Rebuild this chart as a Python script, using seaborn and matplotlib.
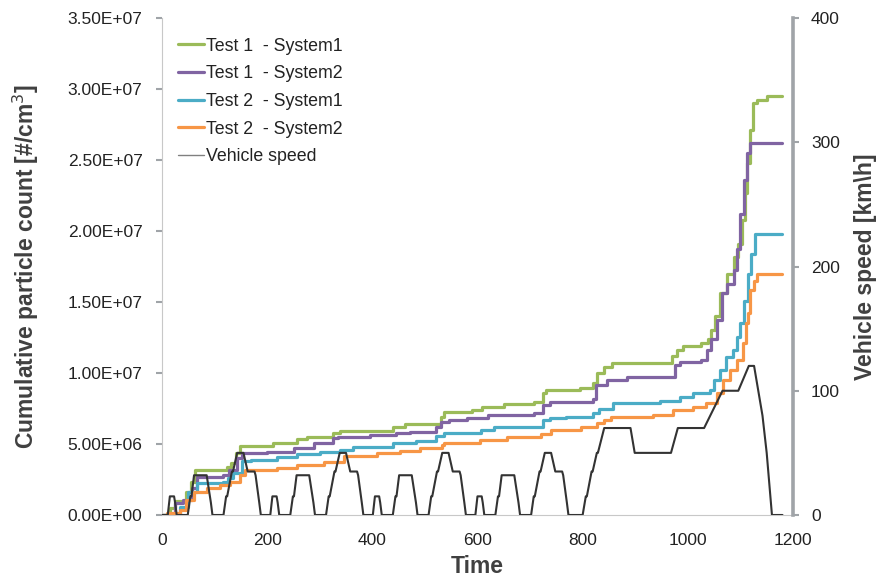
import numpy as np
import pandas as pd
import matplotlib
matplotlib.use('Agg')
import matplotlib.pyplot as plt
import seaborn as sns
from matplotlib.lines import Line2D
from matplotlib.ticker import FuncFormatter

# Cumulative particle counts (step change points, values in #/cm3)
t1s1_time = [0, 15, 25, 45, 55, 62, 124, 132, 140, 148, 211, 256, 275, 326, 339, 440, 462, 530, 536,
             590, 609, 650, 707, 725, 731, 795, 819, 828, 840, 855, 969, 979, 991, 1025, 1038, 1045,
             1052, 1061, 1074, 1087, 1096, 1103, 1109, 1112, 1118, 1124, 1131, 1150, 1180]
t1s1_count = [0, 0.5e6, 1.0e6, 1.6e6, 2.3e6, 3.17e6, 3.4e6, 3.66e6, 4.4e6, 4.86e6, 5.05e6, 5.35e6, 5.5e6,
              5.75e6, 5.94e6, 6.22e6, 6.4e6, 6.92e6, 7.27e6, 7.4e6, 7.63e6, 7.8e6, 7.98e6, 8.57e6, 8.8e6,
              8.92e6, 9.27e6, 10.0e6, 10.4e6, 10.68e6, 11.2e6, 11.6e6, 11.9e6, 12.1e6, 12.4e6, 13.0e6,
              14.0e6, 15.6e6, 17.0e6, 18.2e6, 19.1e6, 20.8e6, 22.7e6, 24.8e6, 27.1e6, 29.0e6, 29.2e6,
              29.5e6, 29.5e6]

t1s2_time = [0, 25, 40, 58, 67, 117, 128, 142, 152, 200, 251, 290, 325, 335, 396, 446, 471, 522, 531,
             545, 580, 620, 707, 725, 737, 820, 826, 846, 884, 976, 985, 1026, 1036, 1045, 1055, 1065,
             1075, 1087, 1093, 1099, 1106, 1112, 1118, 1180]
t1s2_count = [0, 0.83e6, 1.06e6, 1.9e6, 2.7e6, 2.8e6, 3.17e6, 4.0e6, 4.36e6, 4.46e6, 4.7e6, 5.05e6, 5.4e6,
              5.5e6, 5.63e6, 5.75e6, 5.87e6, 6.2e6, 6.57e6, 6.7e6, 6.8e6, 7.04e6, 7.2e6, 7.75e6, 7.98e6,
              8.2e6, 9.15e6, 9.5e6, 9.74e6, 10.56e6, 10.75e6, 10.9e6, 11.6e6, 12.4e6, 13.7e6, 15.6e6,
              16.3e6, 17.25e6, 18.7e6, 21.2e6, 23.6e6, 25.5e6, 26.2e6, 26.2e6]

t2s1_time = [0, 34, 49, 67, 117, 125, 135, 152, 170, 218, 256, 300, 339, 364, 440, 484, 522, 536, 607,
             632, 725, 737, 768, 820, 832, 858, 947, 985, 1010, 1042, 1050, 1061, 1073, 1086, 1093,
             1100, 1106, 1115, 1121, 1127, 1180]
t2s1_count = [0, 0.56e6, 1.64e6, 2.25e6, 2.35e6, 2.6e6, 2.95e6, 3.82e6, 3.9e6, 4.1e6, 4.3e6, 4.45e6,
              4.58e6, 4.8e6, 5.05e6, 5.2e6, 5.56e6, 5.75e6, 5.99e6, 6.22e6, 6.69e6, 6.8e6, 6.92e6, 7.2e6,
              7.5e6, 7.86e6, 8.0e6, 8.33e6, 8.57e6, 8.8e6, 9.5e6, 10.2e6, 11.1e6, 11.6e6, 12.56e6,
              13.5e6, 15.1e6, 17.0e6, 18.4e6, 19.8e6, 19.8e6]

t2s2_time = [0, 10, 34, 45, 60, 85, 110, 129, 148, 158, 218, 256, 309, 347, 409, 453, 491, 532, 536,
             605, 656, 720, 739, 796, 827, 840, 853, 934, 972, 1010, 1035, 1055, 1067, 1080, 1093,
             1105, 1111, 1114, 1118, 1125, 1131, 1180]
t2s2_count = [0, 0.16e6, 0.35e6, 1.06e6, 1.64e6, 1.9e6, 2.1e6, 2.35e6, 2.8e6, 3.17e6, 3.29e6, 3.52e6,
              3.75e6, 4.15e6, 4.34e6, 4.53e6, 4.7e6, 4.93e6, 5.1e6, 5.28e6, 5.52e6, 5.7e6, 5.99e6,
              6.22e6, 6.46e6, 6.69e6, 6.92e6, 7.04e6, 7.4e6, 7.58e6, 7.86e6, 8.57e6, 9.5e6, 10.2e6,
              10.9e6, 12.1e6, 13.5e6, 14.2e6, 15.85e6, 16.5e6, 17.0e6, 17.0e6]

# Vehicle speed (NEDC breakpoints, km/h)
speed_time = [0, 11, 15, 23, 25, 28, 49, 54, 56, 61, 85, 93, 96, 117, 122, 124, 133, 135, 143, 155, 163, 176, 178, 185, 188,
              206, 210, 218, 220, 223, 244, 249, 251, 256, 280, 288, 291, 312, 317, 319, 328, 330, 338, 350, 358, 371, 373, 380, 383,
              401, 405, 413, 415, 418, 439, 444, 446, 451, 475, 483, 486, 507, 512, 514, 523, 525, 533, 545, 553, 566, 568, 575, 578,
              596, 600, 608, 610, 613, 634, 639, 641, 646, 670, 678, 681, 702, 707, 709, 718, 720, 728, 740, 748, 761, 763, 770, 773,
              800, 806, 808, 817, 819, 827, 829, 841, 891, 899, 968, 981, 1031, 1066, 1096, 1116, 1126, 1142, 1150, 1160, 1180]
speed_kmh = [0, 0, 15, 15, 10, 0, 0, 15, 15, 32, 32, 10, 0, 0, 15, 15, 35, 35, 50, 50, 35, 35, 32, 10, 0,
             0, 15, 15, 10, 0, 0, 15, 15, 32, 32, 10, 0, 0, 15, 15, 35, 35, 50, 50, 35, 35, 32, 10, 0,
             0, 15, 15, 10, 0, 0, 15, 15, 32, 32, 10, 0, 0, 15, 15, 35, 35, 50, 50, 35, 35, 32, 10, 0,
             0, 15, 15, 10, 0, 0, 15, 15, 32, 32, 10, 0, 0, 15, 15, 35, 35, 50, 50, 35, 35, 32, 10, 0,
             0, 15, 15, 35, 35, 50, 50, 70, 70, 50, 50, 70, 70, 100, 100, 120, 120, 80, 50, 0, 0]

series_labels = ['Test 1  - System1', 'Test 1  - System2', 'Test 2  - System1', 'Test 2  - System2']
series_colors = ['#9BBB59', '#8064A2', '#4BACC6', '#F79646']
series_data = [(t1s1_time, t1s1_count), (t1s2_time, t1s2_count),
               (t2s1_time, t2s1_count), (t2s2_time, t2s2_count)]

sns.set_style('white')
plt.rcParams['font.family'] = ['Liberation Sans', 'DejaVu Sans']
text_color = '#404040'
tick_gray = '#A0A4A8'

fig = plt.figure(figsize=(8.88, 5.81), dpi=100)
ax = fig.add_axes([0.1824, 0.1136, 0.7106, 0.8554])
ax2 = ax.twinx()

for (tt, cc), lab, col in zip(series_data, series_labels, series_colors):
    sns.lineplot(x=tt, y=cc, ax=ax, color=col, linewidth=2.3, drawstyle='steps-post',
                 estimator=None, label=lab, legend=False)

sns.lineplot(x=speed_time, y=speed_kmh, ax=ax2, color='#333333', linewidth=1.5,
             estimator=None, legend=False)

ax.set_xlim(0, 1200)
ax.set_ylim(0, 3.5e7)
ax2.set_ylim(0, 400)
ax.set_xticks(np.arange(0, 1201, 200))
ax.set_yticks(np.arange(0, 3.5e7 + 1, 5e6))
ax2.set_yticks(np.arange(0, 401, 100))
ax.yaxis.set_major_formatter(FuncFormatter(lambda v, p: '{:.2E}'.format(v)))

ax.set_xlabel('Time', fontsize=16.5, fontweight='bold', color=text_color, labelpad=5)
ax.set_ylabel('Cumulative particle count [#/cm$^3$]', fontsize=16.5, fontweight='bold',
              color=text_color, labelpad=19)
ax2.set_ylabel('Vehicle speed [km\\h]', fontsize=16.5, fontweight='bold', color=text_color, labelpad=10)

for a in (ax, ax2):
    a.tick_params(labelsize=12.5, labelcolor='#222222', colors=tick_gray, length=4, width=1.5, direction='out')
    for s in a.spines.values():
        s.set_visible(False)
ax.spines['left'].set_visible(True)
ax.spines['left'].set_color('#C8C8C8')
ax.spines['bottom'].set_visible(True)
ax.spines['bottom'].set_color('#C8C8C8')
ax2.spines['right'].set_visible(True)
ax2.spines['right'].set_color(tick_gray)
ax2.spines['right'].set_linewidth(2.6)
ax.tick_params(axis='x', pad=9)
ax.tick_params(axis='y', pad=10)
ax2.tick_params(axis='y', pad=9)

handles, labels = ax.get_legend_handles_labels()
handles.append(Line2D([0], [0], color='#808080', linewidth=1))
labels.append('Vehicle speed')
ax2.legend(handles, labels, loc='upper left', bbox_to_anchor=(0.0145, 0.975), frameon=False,
           fontsize=12.8, handlelength=1.46, handletextpad=0.1, labelspacing=0.6, borderaxespad=0,
           labelcolor='#222222')

fig.savefig('out.png', dpi=100)
